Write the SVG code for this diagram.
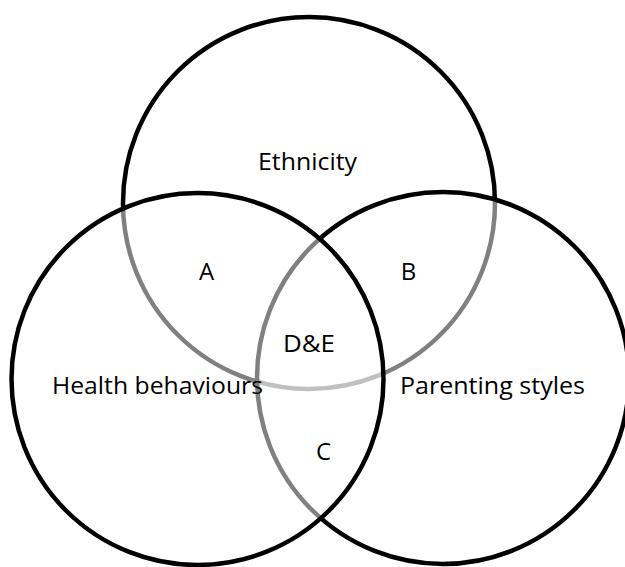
<svg xmlns="http://www.w3.org/2000/svg" width="625" height="567" viewBox="0 0 625 567">
  <style>
    .set { fill: #ffffff; fill-opacity: 0.5; stroke: #000000; stroke-width: 4.5; }
    .lbl { font-family: "Open Sans", "Liberation Sans", sans-serif; font-size: 24px; fill: #000000; }
  </style>
  <rect width="625" height="567" fill="#ffffff"/>
  <!-- Sets, drawn back to front: each translucent fill softens the outlines beneath it -->
  <g id="ethnicity">
    <circle class="set" cx="309" cy="203" r="186"/>
  </g>
  <g id="parenting-styles">
    <circle class="set" cx="443" cy="378" r="186"/>
  </g>
  <g id="health-behaviours">
    <circle class="set" cx="197.5" cy="379" r="186"/>
  </g>
  <!-- Labels -->
  <g id="labels">
    <text class="lbl" x="258" y="170" textLength="99" lengthAdjust="spacingAndGlyphs">Ethnicity</text>
    <text class="lbl" x="52" y="394" textLength="211" lengthAdjust="spacingAndGlyphs">Health behaviours</text>
    <text class="lbl" x="400" y="394" textLength="185" lengthAdjust="spacingAndGlyphs">Parenting styles</text>
    <text class="lbl" x="206.5" y="280" text-anchor="middle">A</text>
    <text class="lbl" x="408.5" y="280" text-anchor="middle">B</text>
    <text class="lbl" x="323.5" y="460" text-anchor="middle">C</text>
    <text class="lbl" x="283" y="352" textLength="52" lengthAdjust="spacingAndGlyphs">D&amp;E</text>
  </g>
</svg>
